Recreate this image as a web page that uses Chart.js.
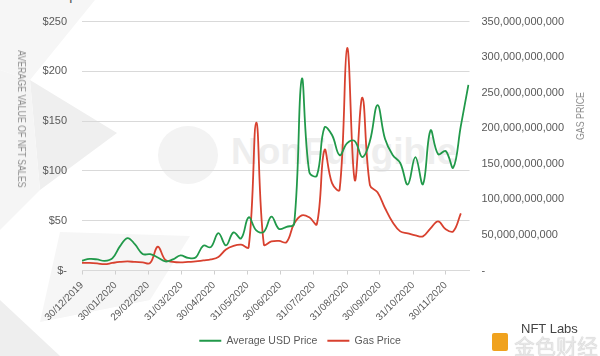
<!DOCTYPE html>
<html>
<head>
<meta charset="utf-8">
<script src="https://cdn.jsdelivr.net/npm/chart.js@4/dist/chart.umd.min.js"></script>
<style>
  html, body { margin: 0; padding: 0; background: #ffffff; }
  #wrap { position: relative; width: 600px; height: 356px; overflow: hidden; background: #ffffff;
          font-family: 'Liberation Sans', Arial, sans-serif; }
  .poly { position: absolute; left: 0; top: 0; width: 600px; height: 356px; }
  #chart { position: absolute; left: 0; top: 0; }
  .rot { position: absolute; white-space: nowrap; color: #8c8c8c; }
  .wm { position: absolute; white-space: nowrap; }
</style>
</head>
<body>
<div id="wrap">
  <div class="poly" style="background:#f6f6f6;clip-path:polygon(0 0,95px 0,30px 80px,0 70px);"></div>
  <div class="poly" style="background:#efefef;clip-path:polygon(30px 80px,117px 133px,40px 190px);"></div>
  <div class="poly" style="background:#f5f5f5;clip-path:polygon(0 70px,30px 80px,40px 190px,0 230px);"></div>
  <div class="poly" style="background:#eeeeee;clip-path:polygon(0 300px,60px 356px,0 356px);"></div>
  <div class="poly" style="background:#f6f6f6;clip-path:polygon(60px 232px,190px 236px,150px 300px,40px 322px);"></div>
  <div class="wm" style="left:158px;top:126px;width:60px;height:58px;border-radius:50%;background:#f3f3f3;"></div>
  <div class="wm" style="left:231px;top:131px;font:bold 37px 'Liberation Sans',Arial,sans-serif;color:#eeeeee;">NonFungible</div>
  <div class="wm" style="left:46px;top:-13px;font-size:14px;color:#555;">the period</div>
  <canvas id="chart" width="600" height="356"></canvas>
  <div class="rot" style="left:22px;top:119px;font-size:11px;transform:translate(-50%,-50%) rotate(90deg) scaleX(0.8);">AVERAGE VALUE OF NFT SALES</div>
  <div class="rot" style="left:580px;top:116px;font-size:11px;transform:translate(-50%,-50%) rotate(-90deg) scaleX(0.8);">GAS PRICE</div>
  <div class="wm" style="left:492px;top:333px;width:16px;height:18px;background:#f0a21e;border-radius:2px;"></div>
  <div class="wm" style="left:521px;top:321px;font:13px 'Liberation Sans',Arial,sans-serif;color:#444;">NFT Labs</div>
  <div class="wm" style="left:514px;top:330px;font:21px 'Noto Sans CJK SC',sans-serif;color:#e6e6e6;text-shadow:0 0 1px #bbb;">金色财经</div>
</div>
<script>
// Weekly observations: days after 30/12/2019
const WEEK_DAYS = [0,7,14,21,28,35,42,49,56,63,70,77,84,91,98,105,112,119,126,133,140,147,154,161,168,175,182,189,196,203,210,217,224,231,238,245,252,259,266,273,280,287,294,301,308,315,322,329,336,343,350,357];

// Average value of NFT sales (USD)
const AVG_USD_PRICE = [9.8,11.6,11.1,9.6,12.1,24.2,32.6,26.2,16.6,16.4,13.1,9.1,11.1,15.1,12.6,13.1,24.9,23.5,37.6,25.2,38.3,32.3,53.4,40.3,38.8,54.1,41.8,43.9,46.9,192.2,98.8,95.3,143.6,136.1,115.9,128,130,113.9,130,166,132,116,108,86.4,113.9,86.7,140.6,116.9,120,103.3,145.2,186.5];

// Gas price (in billions)
const GAS_PRICE_BN = [10.9,10.6,9.9,8.9,10.6,12,12.7,12,11.3,10.6,33.4,14.8,12,11.3,12,12.7,14.1,15.5,19.1,29.6,34.6,36.3,32.9,207.9,36.7,40.9,41.6,39.9,66,77.6,74.8,65.3,169.4,122.8,113.6,312.9,127,243.2,120,110,87.5,67.7,55,52.2,49.4,48,59.3,69.2,57.9,55,80.4,null];

// X-axis tick marks (days after 30/12/2019) and their labels
const TICK_DAYS = [0,31,61,92,122,153,183,214,245,275,306,336];
const TICK_LABELS = ['30/12/2019','30/01/2020','29/02/2020','31/03/2020','30/04/2020','31/05/2020','30/06/2020','31/07/2020','31/08/2020','30/09/2020','31/10/2020','30/11/2020'];

const FONT = "'Liberation Sans', Arial, sans-serif";
const TEXT = '#595959';

const toPoints = (vals) => WEEK_DAYS.map((d, i) => ({ x: d, y: vals[i] }));

new Chart(document.getElementById('chart'), {
  type: 'line',
  data: {
    datasets: [
      {
        label: 'Average USD Price',
        data: toPoints(AVG_USD_PRICE),
        yAxisID: 'y',
        borderColor: '#21994a',
        backgroundColor: '#21994a',
        borderWidth: 1.8,
        tension: 0.4,
        pointRadius: 0,
        fill: false
      },
      {
        label: 'Gas Price',
        data: toPoints(GAS_PRICE_BN),
        yAxisID: 'y1',
        borderColor: '#d8412f',
        backgroundColor: '#d8412f',
        borderWidth: 1.8,
        tension: 0.4,
        pointRadius: 0,
        fill: false,
        spanGaps: false
      }
    ]
  },
  options: {
    responsive: false,
    animation: false,
    layout: { padding: { top: 21, left: 0, right: 0, bottom: 0 } },
    plugins: {
      tooltip: { enabled: false },
      legend: {
        position: 'bottom',
        labels: {
          usePointStyle: true,
          pointStyle: 'line',
          pointStyleWidth: 22,
          color: TEXT,
          padding: 10,
          font: { family: FONT, size: 10.5 }
        }
      }
    },
    scales: {
      x: {
        type: 'linear',
        min: 0,
        max: 358,
        afterBuildTicks: (s) => { s.ticks = TICK_DAYS.map(v => ({ value: v })); },
        afterFit: (s) => { s.height = 55; },
        grid: { drawOnChartArea: false, drawTicks: true, tickLength: 4, color: '#cfcfcf' },
        border: { display: true, color: '#d9d9d9' },
        ticks: {
          autoSkip: false,
          minRotation: 45,
          maxRotation: 45,
          padding: 5,
          color: TEXT,
          font: { family: FONT, size: 10 },
          callback: (v) => { const i = TICK_DAYS.indexOf(v); return i >= 0 ? TICK_LABELS[i] : ''; }
        }
      },
      y: {
        position: 'left',
        min: 0,
        max: 250,
        afterFit: (s) => { s.width = 82; },
        grid: { color: '#d9d9d9', drawTicks: false },
        border: { display: false },
        ticks: {
          stepSize: 50,
          padding: 15,
          color: TEXT,
          font: { family: FONT, size: 11 },
          callback: (v) => v === 0 ? '$-' : '$' + v
        }
      },
      y1: {
        position: 'right',
        min: 0,
        max: 350,
        afterFit: (s) => { s.width = 130.5; },
        grid: { drawOnChartArea: false, drawTicks: false },
        border: { display: false },
        ticks: {
          stepSize: 50,
          padding: 12,
          color: TEXT,
          font: { family: FONT, size: 11 },
          callback: (v) => v === 0 ? '-' : (v * 1e9).toLocaleString('en-US')
        }
      }
    }
  }
});
</script>
</body>
</html>
